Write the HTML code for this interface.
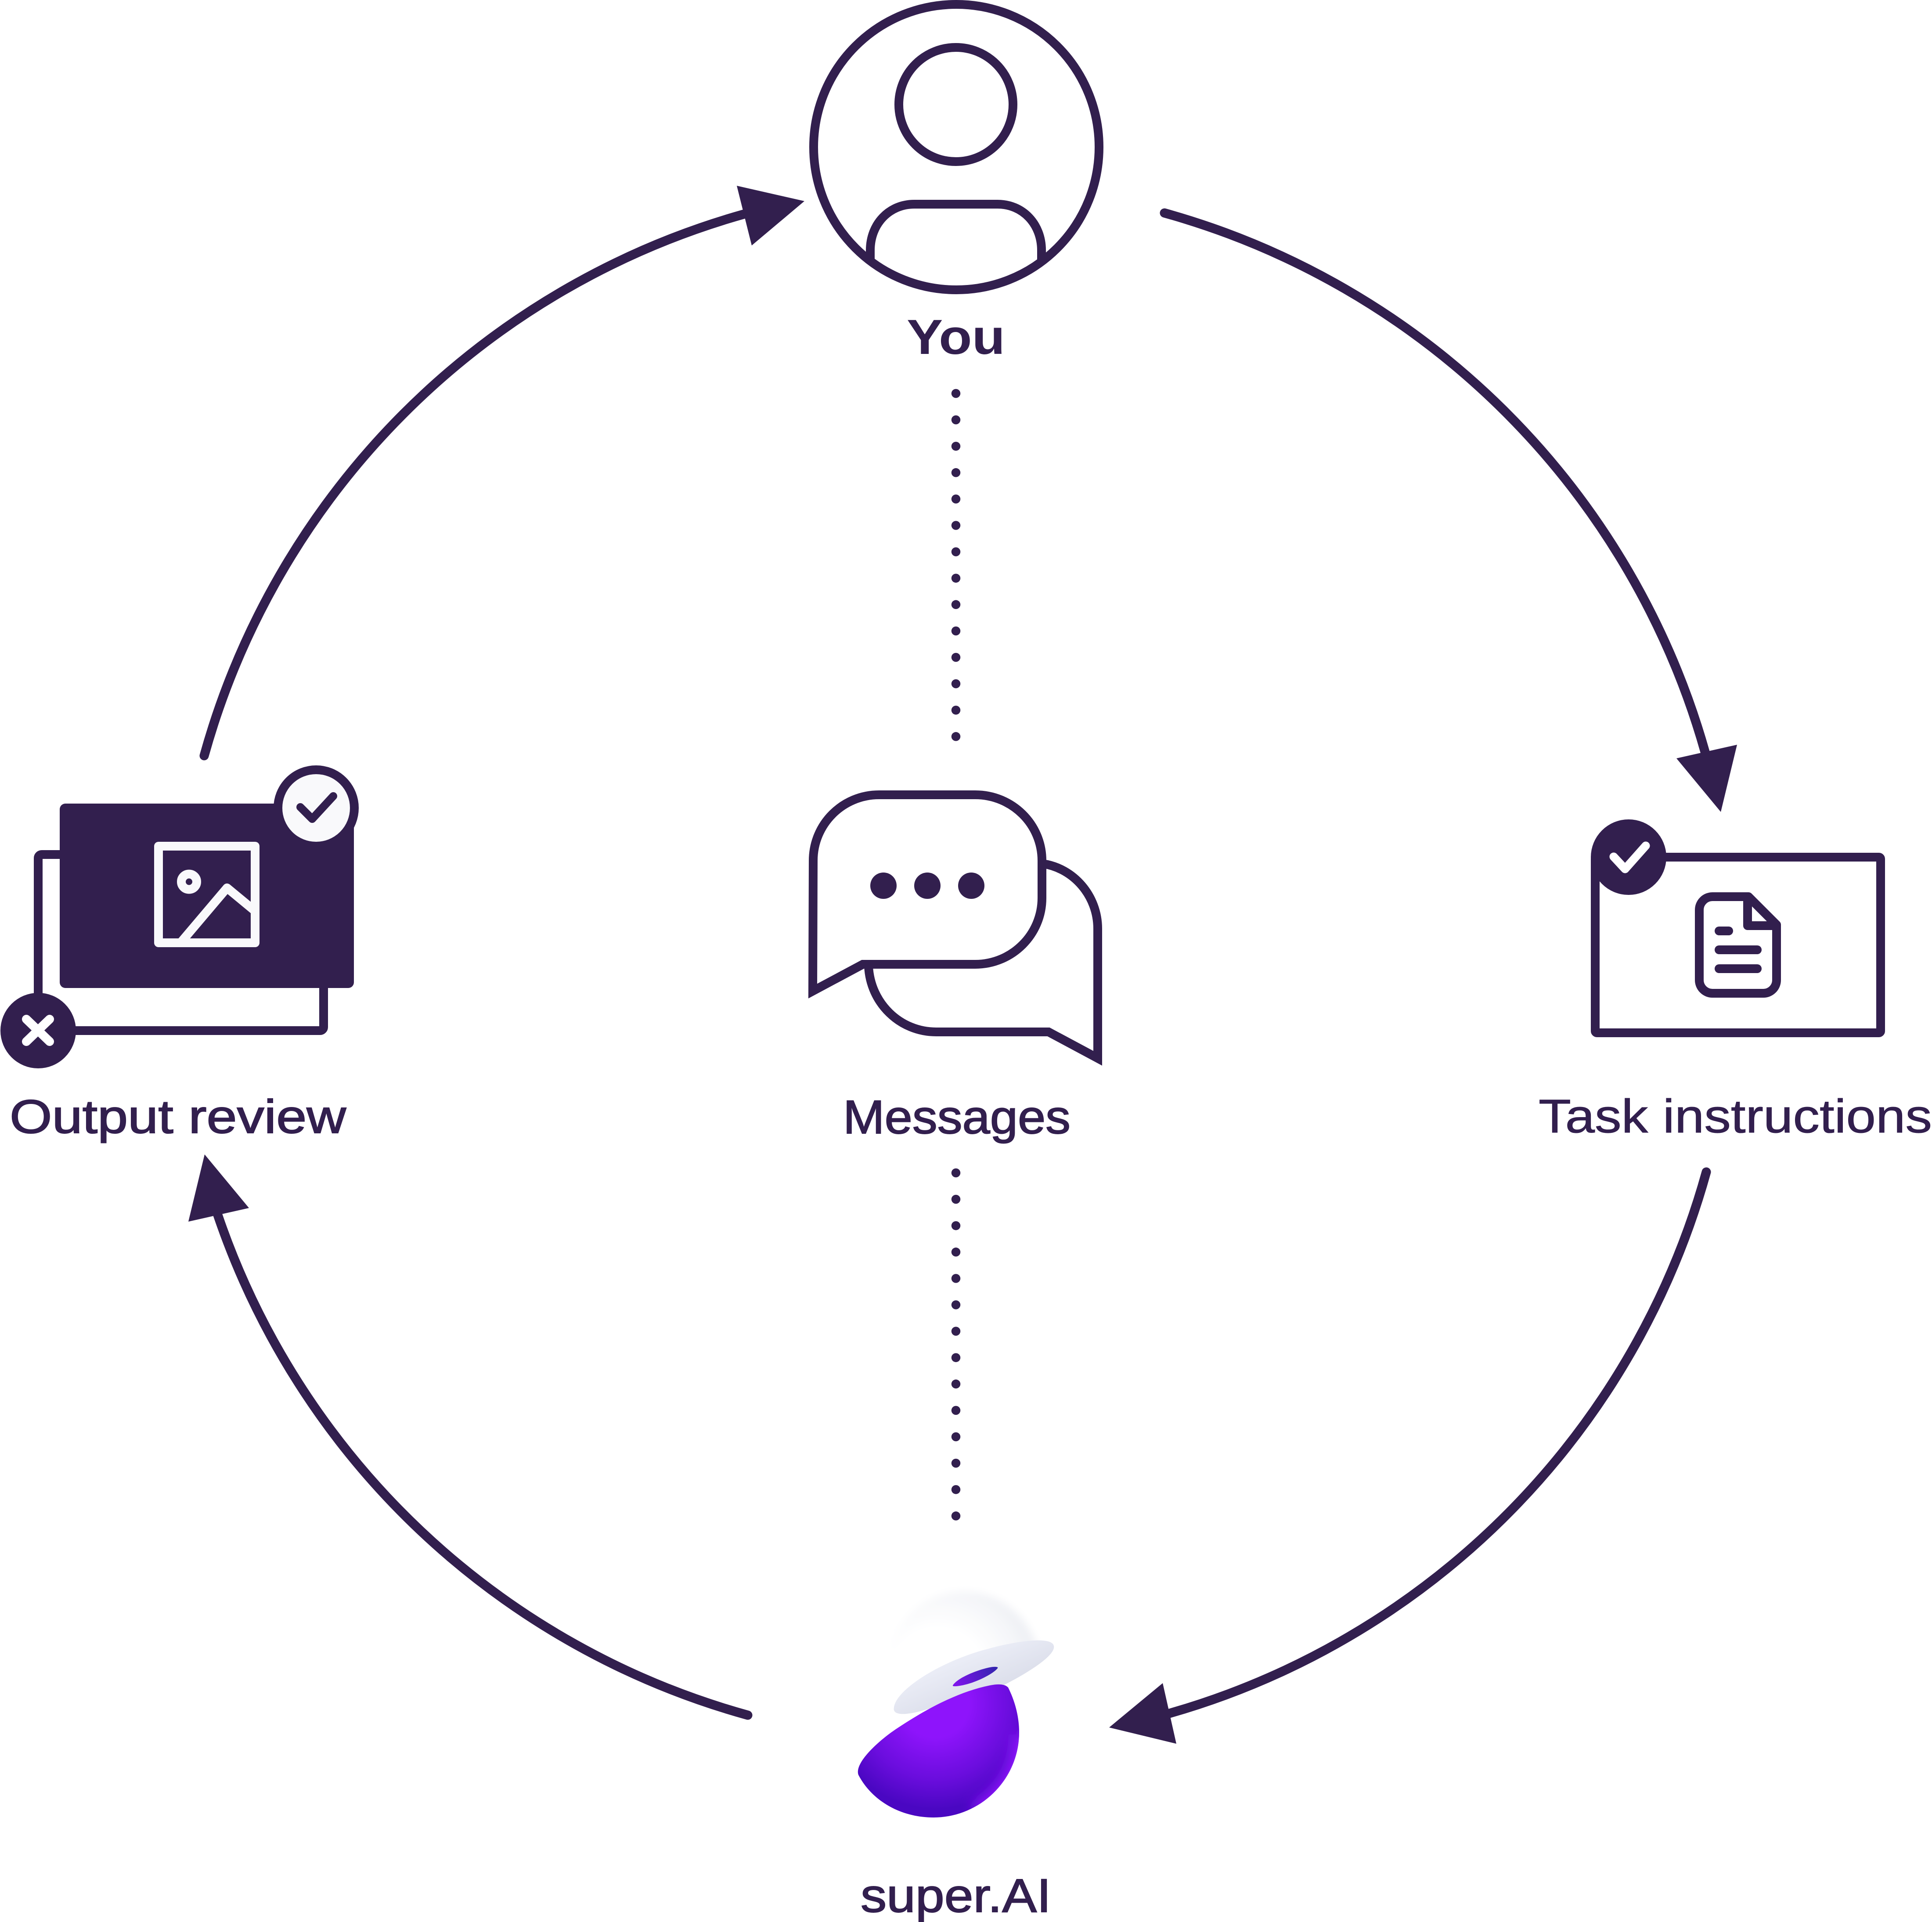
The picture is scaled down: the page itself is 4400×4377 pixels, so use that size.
<!DOCTYPE html>
<html><head><meta charset="utf-8"><style>html,body{margin:0;padding:0;background:#fff}svg{display:block}text{font-family:"Liberation Sans",sans-serif;fill:#321f4e}</style></head>
<body>
<svg xmlns="http://www.w3.org/2000/svg" width="4400" height="4377" viewBox="0 0 4400 4377">
<defs>
<radialGradient id="pg" gradientUnits="userSpaceOnUse" cx="2130" cy="3880" r="240"><stop offset="0" stop-color="#8e14fb"/><stop offset=".32" stop-color="#8e14fb"/><stop offset=".72" stop-color="#6a0ddd"/><stop offset="1" stop-color="#4a07c2"/></radialGradient>
<linearGradient id="dg" gradientUnits="userSpaceOnUse" x1="2200" y1="3750" x2="2260" y2="3890"><stop offset="0" stop-color="#eef0f9"/><stop offset="1" stop-color="#d6d9e6"/></linearGradient>
<linearGradient id="sg" gradientUnits="userSpaceOnUse" x1="2180" y1="3840" x2="2270" y2="3800"><stop offset="0" stop-color="#7d14ea"/><stop offset="1" stop-color="#3324ae"/></linearGradient>
<radialGradient id="gg" gradientUnits="userSpaceOnUse" cx="2135" cy="3815" r="240"><stop offset="0" stop-color="#fff"/><stop offset=".45" stop-color="#fff"/><stop offset=".78" stop-color="#f5f6f9"/><stop offset="1" stop-color="#eceef3"/></radialGradient>
<filter id="b1" x="-30%" y="-30%" width="160%" height="160%"><feGaussianBlur stdDeviation="9"/></filter>
<filter id="b2" x="-50%" y="-50%" width="200%" height="200%"><feGaussianBlur stdDeviation="14"/></filter>
<clipPath id="pc"><path d="M2296,3843 Q2286,3832 2255,3838 C2170,3855 2090,3905 2040,3938 C2000,3965 1945,4015 1955,4042 C1985,4100 2050,4139 2126,4139 C2233,4139 2321,4052 2321,3945 C2321,3910 2312,3875 2296,3843 Z"/></clipPath>
<clipPath id="gc"><polygon points="1990,3600 2400,3600 2400,3745 2250,3790 2080,3880 2040,3895 1990,3900"/></clipPath>
</defs>
<rect width="4400" height="4377" fill="#fff"/>

<!-- ring arrows -->
<g fill="none" stroke="#321f4e" stroke-width="21" stroke-linecap="round">
<path d="M2652,485 A1775,1775 0 0 1 3883,1712"/>
<path d="M3886,2669 A1775,1775 0 0 1 2663,3902"/>
<path d="M1703,3906 A1775,1775 0 0 1 496,2767"/>
<path d="M465,1721 A1775,1775 0 0 1 1693,488"/>
</g>
<g fill="#321f4e">
<polygon points="1678,423 1832,458 1712,559"/>
<polygon points="3956,1696 3818,1727 3919,1849"/>
<polygon points="2648,3833 2526,3934 2679,3971"/>
<polygon points="466,2629 567,2751 429,2782"/>
</g>

<!-- dotted lines -->
<g fill="none" stroke="#321f4e" stroke-width="20.5" stroke-linecap="round" stroke-dasharray="0 60.1">
<path d="M2177,896 V1690"/>
<path d="M2177,2671 V3465"/>
</g>

<!-- You -->
<g fill="none" stroke="#321f4e" stroke-width="20">
<circle cx="2178" cy="335" r="325"/>
<circle cx="2177" cy="238" r="130"/>
<path d="M1982,595 V570 C1982,510 2025,465 2082,465 H2272 C2329,465 2372,510 2372,570 V595"/>
</g>
<text x="2065" y="806" font-size="112" font-weight="700" textLength="224" lengthAdjust="spacingAndGlyphs">You</text>

<!-- Messages -->
<g fill="none" stroke="#321f4e" stroke-width="20" stroke-linejoin="miter" stroke-miterlimit="8">
<path d="M2375,1967 C2445,1977 2500,2040 2500,2115 V2410 L2388,2350 H2132 C2050,2350 1982,2285 1978,2200"/>
<path d="M1852,1960 C1852,1877 1919,1810 2002,1810 H2221 C2305,1810 2373,1877 2373,1960 V2045 C2373,2128 2305,2196 2221,2196 H1965 L1851,2257 Z"/>
</g>
<g fill="#321f4e"><circle cx="2012" cy="2017" r="30"/><circle cx="2112" cy="2017" r="30"/><circle cx="2212" cy="2017" r="30"/></g>
<text x="1920" y="2581" font-size="108" textLength="518" lengthAdjust="spacingAndGlyphs" stroke="#321f4e" stroke-width="2">Messages</text>

<!-- Output review -->
<rect x="87" y="1946" width="650" height="401" rx="8" fill="#fff" stroke="#321f4e" stroke-width="20"/>
<rect x="136" y="1830" width="670" height="420" rx="13" fill="#321f4e"/>
<circle cx="720" cy="1840" r="87" fill="#f9f9fb" stroke="#321f4e" stroke-width="20"/>
<path d="M684,1838 L711,1865 L759,1813" fill="none" stroke="#321f4e" stroke-width="18" stroke-linecap="round" stroke-linejoin="round"/>
<g fill="none" stroke="#f9f9fb" stroke-width="20" stroke-linejoin="round" stroke-linecap="round">
<rect x="361" y="1927" width="220" height="220"/>
<circle cx="430.5" cy="2008" r="17.5"/>
<path d="M412,2146 L517,2022 L580,2074" stroke-linecap="butt"/>
</g>
<circle cx="87" cy="2347" r="86" fill="#321f4e"/>
<path d="M60,2321 L113,2372 M113,2321 L60,2372" stroke="#fff" stroke-width="20" stroke-linecap="round"/>
<text x="22" y="2580" font-size="108" textLength="766" lengthAdjust="spacingAndGlyphs" stroke="#321f4e" stroke-width="2">Output review</text>

<!-- Task instructions -->
<rect x="3633" y="1952" width="650" height="400" rx="4" fill="#fff" stroke="#321f4e" stroke-width="20" stroke-linejoin="round"/>
<circle cx="3709" cy="1952" r="86" fill="#321f4e"/>
<path d="M3675,1951 L3701,1979 L3748,1926" fill="none" stroke="#fff" stroke-width="19" stroke-linecap="round" stroke-linejoin="round"/>
<g fill="none" stroke="#321f4e" stroke-width="20" stroke-linejoin="round" stroke-linecap="round">
<path d="M3982,2042 L4046,2106 V2232 A30,30 0 0 1 4016,2262 H3900 A30,30 0 0 1 3870,2232 V2072 A30,30 0 0 1 3900,2042 Z"/>
<path d="M3980,2042 V2108 H4046"/>
<path d="M3915,2120 H3937 M3915,2163 H4002 M3915,2206 H4002"/>
</g>
<text x="3504" y="2579" font-size="108" textLength="896" lengthAdjust="spacingAndGlyphs" stroke="#321f4e" stroke-width="1">Task instructions</text>

<!-- super.AI -->
<g clip-path="url(#gc)"><circle cx="2195" cy="3797" r="172" fill="url(#gg)" filter="url(#b1)"/></g>
<path d="M2036,3888 C2042,3845 2150,3780 2250,3755 C2310,3738 2395,3725 2400,3748 C2405,3770 2340,3810 2287,3837 L2120,3890 C2090,3900 2030,3915 2036,3888 Z" fill="url(#dg)"/>
<path d="M2170,3838 C2180,3822 2220,3805 2250,3798 C2262,3795 2275,3795 2272,3799 C2262,3812 2225,3830 2200,3836 C2185,3840 2168,3842 2170,3838 Z" fill="url(#sg)"/>
<path d="M2296,3843 Q2286,3832 2255,3838 C2170,3855 2090,3905 2040,3938 C2000,3965 1945,4015 1955,4042 C1985,4100 2050,4139 2126,4139 C2233,4139 2321,4052 2321,3945 C2321,3910 2312,3875 2296,3843 Z" fill="url(#pg)"/>
<g clip-path="url(#pc)"><path d="M2330,3950 C2330,4030 2290,4090 2225,4130" fill="none" stroke="#8e14fb" stroke-width="48" filter="url(#b2)"/></g>
<text x="1960" y="4354" font-size="108" textLength="434" lengthAdjust="spacingAndGlyphs" stroke="#321f4e" stroke-width="2">super.AI</text>
</svg>
</body></html>
